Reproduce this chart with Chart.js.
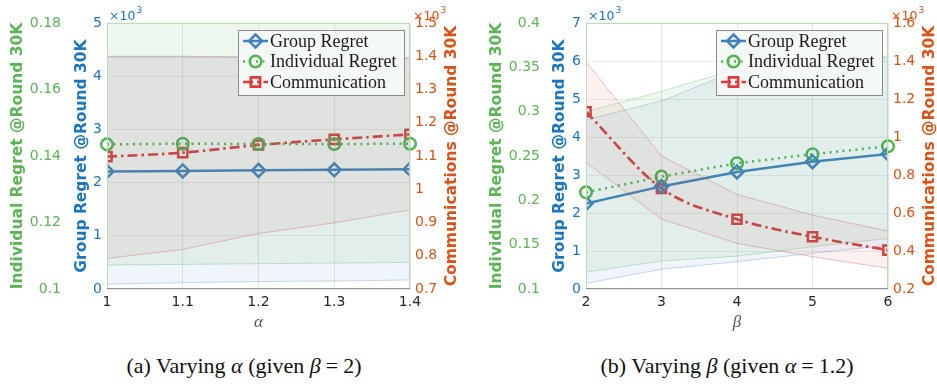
<!DOCTYPE html>
<html>
<head>
<meta charset="utf-8">
<script src="https://cdn.jsdelivr.net/npm/chart.js@4.4.1/dist/chart.umd.min.js"></script>
<style>
  body { margin: 0; background: #fff; width: 937px; height: 384px; position: relative; overflow: hidden; }
  canvas { position: absolute; top: 0; }
  #graficaA { left: 0; }
  #graficaB { left: 468px; }
  .caption { position: absolute; top: 353px; width: 400px; text-align: center;
             font-family: 'Liberation Serif', serif; font-size: 22px; line-height: 26px; color: #111; }
  .caption .eq { margin: 0 5px; }
</style>
</head>
<body>
<canvas id="graficaA" width="468" height="334"></canvas>
<canvas id="graficaB" width="469" height="334"></canvas>
<div class="caption" style="left:44px">(a) Varying <i>α</i> (given <i>β</i><span class="eq">=</span>2)</div>
<div class="caption" style="left:527px">(b) Varying <i>β</i> (given <i>α</i><span class="eq">=</span>1.2)</div>
<script>
// (a) variando alpha, beta = 2  -- regret en miles (x10^3)
const alphas = [1, 1.1, 1.2, 1.3, 1.4];
const grupoA = [2.21, 2.22, 2.23, 2.24, 2.25];
const grupoA_lo = [0.09, 0.12, 0.14, 0.15, 0.17];
const grupoA_hi = [4.36, 4.36, 4.35, 4.35, 4.34];
const indivA = [0.1435, 0.1437, 0.1436, 0.1436, 0.1437];
const indivA_lo = [0.1072, 0.1074, 0.1076, 0.1078, 0.108];
const indivA_hi = [0.181, 0.181, 0.181, 0.181, 0.181];
const comunA = [1.098, 1.110, 1.133, 1.150, 1.165];
const comunA_lo = [0.792, 0.819, 0.867, 0.899, 0.938];
const comunA_hi = [1.400, 1.400, 1.398, 1.397, 1.395];

// (b) variando beta, alpha = 1.2
const betas = [2, 3, 4, 5, 6];
const grupoB = [2.25, 2.7, 3.08, 3.35, 3.55];
const grupoB_lo = [0.15, 0.52, 0.72, 0.94, 1.15];
const grupoB_hi = [4.45, 4.95, 5.75, 5.95, 6.1];
const indivB = [0.209, 0.2267, 0.2418, 0.252, 0.261];
const indivB_lo = [0.119, 0.1316, 0.137, 0.1477, 0.157];
const indivB_hi = [0.300, 0.323, 0.348, 0.356, 0.363];
const comunB = [1.133, 0.730, 0.567, 0.475, 0.405];
const comunB_lo = [0.867, 0.568, 0.44, 0.37, 0.309];
const comunB_hi = [1.396, 0.90, 0.698, 0.589, 0.505];

const etiquetas = ['Group Regret', 'Individual Regret', 'Communication'];

const colAzul = '#4182be', colVerde = '#52b44c', colRojo = '#e03a3a';
const txtAzul = '#1b75c2', txtVerde = '#5cb555', txtNaranja = '#d95319';

Chart.defaults.font.family = 'DejaVu Sans';

const fmt = v => String(Math.round(v * 1000) / 1000);
const pts = (xs, ys) => xs.map((x, i) => ({x: x, y: ys[i]}));

const banda = (xs, lo, hi, eje, borde, relleno) => [
  {data: pts(xs, lo), yAxisID: eje, borderColor: borde, borderWidth: 1, pointRadius: 0, fill: false},
  {data: pts(xs, hi), yAxisID: eje, borderColor: borde, borderWidth: 1, pointRadius: 0, fill: '-1', backgroundColor: relleno}
];

function marcador(ctx, tipo, x, y) {
  ctx.beginPath();
  if (tipo === 'rombo') {
    const r = 6.5;
    ctx.moveTo(x, y - r); ctx.lineTo(x + r, y); ctx.lineTo(x, y + r); ctx.lineTo(x - r, y); ctx.closePath();
  } else if (tipo === 'circulo') {
    ctx.arc(x, y, 5.8, 0, Math.PI * 2);
  } else {
    ctx.rect(x - 4.6, y - 4.6, 9.2, 9.2);
  }
  ctx.stroke();
}

const extras = {
  id: 'extras',
  afterDraw(chart, args, o) {
    const {ctx, chartArea: a} = chart;
    ctx.save();
    // marco
    ctx.lineWidth = 1;
    ctx.strokeStyle = '#b7dcb2';
    ctx.beginPath();
    ctx.moveTo(a.left + 0.5, a.bottom); ctx.lineTo(a.left + 0.5, a.top + 0.5);
    ctx.lineTo(a.right - 0.5, a.top + 0.5); ctx.lineTo(a.right - 0.5, a.bottom);
    ctx.stroke();
    ctx.strokeStyle = '#8f8f8f';
    ctx.beginPath(); ctx.moveTo(a.left, a.bottom - 0.5); ctx.lineTo(a.right, a.bottom - 0.5); ctx.stroke();

    // leyenda
    const bw = 166, bh = 65, bx = a.right - 6 - bw, by = 30;
    ctx.fillStyle = '#f5f9f5';
    ctx.fillRect(bx, by, bw, bh);
    ctx.strokeStyle = '#8a8a8a';
    ctx.strokeRect(bx + 0.5, by + 0.5, bw, bh);
    const tipos = ['rombo', 'circulo', 'cuadro'];
    [6, 7, 8].forEach((k, i) => {
      const ds = chart.data.datasets[k];
      const yy = by + 11 + i * 20.5;
      ctx.strokeStyle = ds.borderColor;
      ctx.lineWidth = ds.borderWidth;
      ctx.setLineDash(ds.borderDash || []);
      ctx.beginPath(); ctx.moveTo(bx + 5, yy); ctx.lineTo(bx + 30, yy); ctx.stroke();
      ctx.setLineDash([]);
      marcador(ctx, tipos[i], bx + 17.5, yy);
      ctx.fillStyle = '#1a1a1a';
      ctx.font = '18px "Liberation Serif"';
      ctx.textBaseline = 'middle';
      ctx.textAlign = 'left';
      ctx.fillText(etiquetas[i], bx + 32, yy + 1);
    });

    // titulo eje derecho
    ctx.save();
    ctx.translate(o.tituloX, (a.top + a.bottom) / 2);
    ctx.rotate(-Math.PI / 2);
    ctx.fillStyle = txtNaranja;
    ctx.font = 'bold 15.5px "DejaVu Sans"';
    ctx.textAlign = 'center';
    ctx.textBaseline = 'middle';
    ctx.fillText('Communications @Round 30K', 0, 0);
    ctx.restore();

    // x10^3
    const exp = (x, col) => {
      ctx.fillStyle = col;
      ctx.textAlign = 'left';
      ctx.textBaseline = 'alphabetic';
      ctx.font = '12.5px "DejaVu Sans"';
      ctx.fillText('\u00d710', x, 19.5);
      const w = ctx.measureText('\u00d710').width;
      ctx.font = '9px "DejaVu Sans"';
      ctx.fillText('3', x + w + 1, 12.5);
    };
    exp(a.left + 2, txtAzul);
    exp(a.right + 3, txtNaranja);
    ctx.restore();
  }
};

function crearGrafica(canvas, xs, paso, xEtiqueta, series, ejes, anchoDer, tituloX) {
  const [g, g_lo, g_hi, ind, ind_lo, ind_hi, com, com_lo, com_hi] = series;
  return new Chart(canvas, {
    type: 'line',
    data: {
      datasets: [
        ...banda(xs, g_lo, g_hi, 'yAzul', 'rgba(70,130,200,0.3)', 'rgba(70,130,200,0.08)'),
        ...banda(xs, ind_lo, ind_hi, 'yVerde', 'rgba(80,180,80,0.3)', 'rgba(80,180,80,0.09)'),
        ...banda(xs, com_lo, com_hi, 'yNaranja', 'rgba(230,70,70,0.35)', 'rgba(230,60,60,0.08)'),
        {label: etiquetas[0], data: pts(xs, g), yAxisID: 'yAzul', borderColor: colAzul, borderWidth: 2.5,
         pointStyle: 'rectRot', pointRadius: 6.5, pointBorderWidth: 2.5, pointBackgroundColor: 'rgba(0,0,0,0)', fill: false},
        {label: etiquetas[1], data: pts(xs, ind), yAxisID: 'yVerde', borderColor: colVerde, borderWidth: 2.5,
         borderDash: [2, 4.5], pointStyle: 'circle', pointRadius: 5.8, pointBorderWidth: 2.5,
         pointBackgroundColor: 'rgba(0,0,0,0)', fill: false, clip: false},
        {label: etiquetas[2], data: pts(xs, com), yAxisID: 'yNaranja', borderColor: colRojo, borderWidth: 2.7,
         borderDash: [10, 4, 2.5, 4], pointStyle: 'rect', pointRadius: 6.5, pointBorderWidth: 2.5,
         pointBackgroundColor: 'rgba(0,0,0,0)', fill: false, cubicInterpolationMode: 'monotone'}
      ]
    },
    options: {
      responsive: false,
      animation: false,
      layout: {padding: {top: 23, left: 0, right: 0, bottom: 0}},
      plugins: {legend: {display: false}, tooltip: {enabled: false}, extras: {tituloX: tituloX}},
      scales: {
        x: {
          type: 'linear', min: xs[0], max: xs[xs.length - 1],
          ticks: {stepSize: paso, color: '#262626', font: {size: 14}, padding: 5, callback: fmt},
          grid: {color: 'rgba(0,0,0,0.1)', drawTicks: false},
          border: {display: false},
          title: {display: true, text: xEtiqueta, color: '#555',
                  font: {family: 'Liberation Serif', style: 'italic', size: 17}, padding: {top: 0, bottom: 1}},
          afterFit: s => { s.height = 45; }
        },
        yVerde: {
          position: 'left', weight: 2, min: ejes.verde[0], max: ejes.verde[1],
          ticks: {stepSize: ejes.verde[2], color: txtVerde, font: {size: 14}, padding: 4, callback: fmt},
          grid: {display: false, drawTicks: false},
          border: {display: false},
          title: {display: true, text: 'Individual Regret @Round 30K', color: txtVerde,
                  font: {size: 15.5, weight: 'bold'}, padding: {top: ejes.verde[3], bottom: 0}},
          afterFit: s => { s.width = ejes.verde[4]; }
        },
        yAzul: {
          position: 'left', weight: 1, min: ejes.azul[0], max: ejes.azul[1],
          ticks: {stepSize: 1, color: txtAzul, font: {size: 14}, padding: 5, callback: fmt},
          grid: {color: 'rgba(0,0,0,0.08)', drawTicks: false},
          border: {display: false},
          title: {display: true, text: 'Group Regret @Round 30K', color: txtAzul,
                  font: {size: 15.5, weight: 'bold'}, padding: {top: ejes.azul[3], bottom: 0}},
          afterFit: s => { s.width = 42; }
        },
        yNaranja: {
          position: 'right', min: ejes.naranja[0], max: ejes.naranja[1],
          ticks: {stepSize: ejes.naranja[2], color: txtNaranja, font: {size: 14}, padding: 5, callback: fmt},
          grid: {display: false, drawTicks: false},
          border: {display: false},
          afterFit: s => { s.width = anchoDer; }
        }
      }
    },
    plugins: [extras]
  });
}

crearGrafica(document.getElementById('graficaA'), alphas, 0.1, 'α',
  [grupoA, grupoA_lo, grupoA_hi, indivA, indivA_lo, indivA_hi, comunA, comunA_lo, comunA_hi],
  {verde: [0.1, 0.18, 0.02, 8.7, 65], azul: [0, 5, 1, 7.7], naranja: [0.7, 1.5, 0.1]}, 58, 452);

crearGrafica(document.getElementById('graficaB'), betas, 1, 'β',
  [grupoB, grupoB_lo, grupoB_hi, indivB, indivB_lo, indivB_hi, comunB, comunB_lo, comunB_hi],
  {verde: [0.1, 0.4, 0.05, 19.7, 76], azul: [0, 7, 1, 6.7], naranja: [0.2, 1.6, 0.2]}, 49, 462);
</script>
</body>
</html>
